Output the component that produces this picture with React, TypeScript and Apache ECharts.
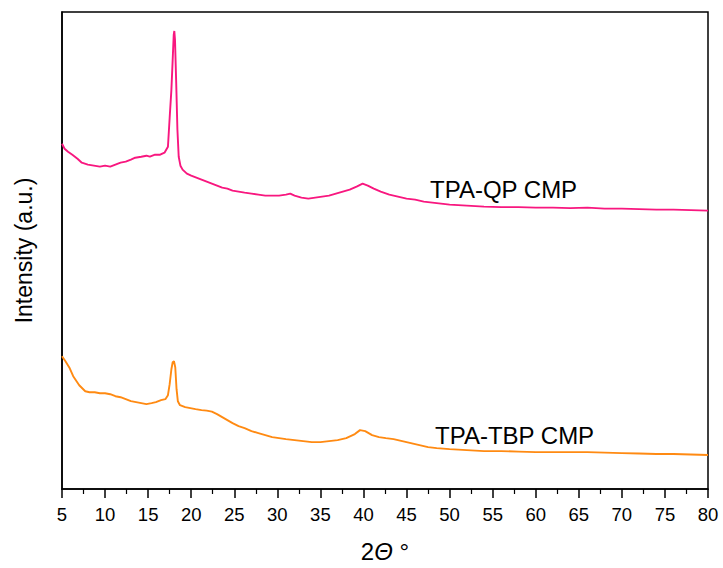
import React, { useEffect, useRef } from "react";
import * as echarts from "echarts";

// Diffraction angle (2θ, degrees) and intensity (a.u.) for TPA-QP CMP
const qpAngle = [
  5.0, 5.3, 5.7, 6.2, 6.8, 7.3, 8.0, 8.7, 9.4, 10.0, 10.6, 11.2, 11.8, 12.4, 13.0, 13.5, 14.2, 14.8,
  15.2, 15.8, 16.4, 16.9, 17.3, 17.5, 17.7, 17.85, 17.97, 18.04, 18.12, 18.25, 18.4, 18.55, 18.75,
  19.0, 19.5, 20.0, 20.6, 21.2, 21.8, 22.4, 23.0, 23.6, 24.2, 24.8, 25.5, 26.2, 27.0, 27.8, 28.6,
  29.4, 30.2, 31.0, 31.5, 32.0, 32.8, 33.6, 34.4, 35.2, 36.0, 36.8, 37.6, 38.4, 39.2, 39.9, 40.5,
  41.2, 42.0, 43.0, 44.0, 45.0, 46.0, 47.0, 48.0, 49.0, 50.0, 52.0, 54.0, 56.0, 58.0, 60.0, 62.0,
  64.0, 66.0, 68.0, 70.0, 72.0, 74.0, 76.0, 78.0, 80.0,
];
const qpIntensity = [
  346, 341, 338, 335, 331, 327, 325, 324, 323, 324, 323, 325, 327, 328, 330, 332, 333, 334,
  333, 335, 335, 337, 343, 372, 400, 430, 455, 459, 450, 410, 360, 333, 324,
  320, 316, 314, 312, 310, 308, 306, 304, 302, 301, 299, 298, 297, 296, 295, 294,
  294, 294, 295, 296, 294, 292, 291, 292, 293, 294, 296, 298, 300, 303, 306, 304,
  301, 298, 295, 293, 291, 290, 288, 287, 286, 285, 284, 283, 282.5, 282.5, 282, 282,
  281.5, 282, 281, 281, 280.5, 280, 280, 279.5, 279,
];

// Diffraction angle (2θ, degrees) and intensity (a.u.) for TPA-TBP CMP
const tbpAngle = [
  5.0, 5.4, 5.9, 6.3, 7.0, 7.7, 8.2, 8.8, 9.4, 10.0, 10.6, 11.2, 11.8, 12.4, 13.0, 13.6, 14.2, 14.8,
  15.4, 15.9, 16.5, 17.0, 17.3, 17.5, 17.7, 17.85, 18.0, 18.15, 18.3, 18.45, 18.7, 19.3, 19.9, 20.5,
  21.2, 21.8, 22.4, 23.0, 23.6, 24.2, 24.8, 25.5, 26.2, 27.0, 27.8, 28.6, 29.4, 30.2, 31.0, 32.0,
  33.0, 34.0, 35.0, 36.0, 37.0, 38.0, 39.0, 39.6, 40.2, 41.0, 41.8, 42.6, 43.5, 44.5, 45.5, 46.5,
  47.5, 48.5, 50.0, 52.0, 54.0, 56.0, 58.0, 60.0, 62.0, 64.0, 66.0, 68.0, 70.0, 72.0, 74.0, 76.0,
  78.0, 80.0,
];
const tbpIntensity = [
  133, 128, 121, 113, 104, 98, 97, 97, 96, 96, 95, 93, 92, 90, 88, 87, 86, 85,
  86, 87, 89, 90, 94, 105, 120, 127, 128, 122, 100, 88, 84, 82, 81, 80,
  79, 78.5, 77.5, 75, 72, 69, 66, 63, 61, 58, 56, 54, 52, 51, 50, 49,
  48, 47, 47, 48, 49, 51, 55, 59, 58, 54, 52, 51, 50, 48, 46, 44,
  42, 41, 40, 39, 38, 38, 37.5, 37, 37, 37, 37, 36.5, 36, 35.5, 35, 35,
  34.5, 34,
];

const seriesNames = ["TPA-QP CMP", "TPA-TBP CMP"];
const seriesColors = ["#f8177f", "#ff8a12"];

const FONT = "'Liberation Sans', Arial, Helvetica, sans-serif";

const zip = (xs: number[], ys: number[]) => xs.map((x, i) => [x, ys[i]]);

export default function App() {
  const ref = useRef<HTMLDivElement>(null);

  useEffect(() => {
    if (!ref.current) return;
    const chart = echarts.init(ref.current, null, { renderer: "svg" });
    chart.setOption({
      animation: false,
      backgroundColor: "#ffffff",
      grid: {
        left: 62,
        right: 15,
        top: 12,
        bottom: 78,
        show: true,
        borderColor: "#000",
        borderWidth: 1.5,
      },
      xAxis: {
        type: "value",
        min: 5,
        max: 80,
        interval: 5,
        name: "{n|2}{t|Θ}{d| °}",
        nameLocation: "middle",
        nameGap: 50,
        nameTextStyle: {
          rich: {
            n: { fontFamily: FONT, fontSize: 24, color: "#000" },
            t: { fontFamily: FONT, fontSize: 24, fontStyle: "italic", color: "#000" },
            d: { fontFamily: FONT, fontSize: 24, color: "#000" },
          },
        },
        axisLine: { show: true, lineStyle: { color: "#000", width: 1.5 } },
        axisTick: { show: true, length: 9, lineStyle: { color: "#000", width: 1.5 } },
        minorTick: { show: true, splitNumber: 2, length: 5, lineStyle: { color: "#000", width: 1.2 } },
        axisLabel: { fontFamily: FONT, fontSize: 18.5, color: "#000", margin: 16 },
        splitLine: { show: false },
      },
      yAxis: {
        type: "value",
        min: 0,
        max: 478,
        name: "Intensity (a.u.)",
        nameLocation: "middle",
        nameGap: 27,
        nameTextStyle: { fontFamily: FONT, fontSize: 23, color: "#000" },
        axisLine: { show: true, lineStyle: { color: "#000", width: 1.5 } },
        axisTick: { show: false },
        axisLabel: { show: false },
        splitLine: { show: false },
      },
      series: [
        {
          name: seriesNames[0],
          type: "line",
          data: zip(qpAngle, qpIntensity),
          showSymbol: false,
          lineStyle: { color: seriesColors[0], width: 1.9 },
        },
        {
          name: seriesNames[1],
          type: "line",
          data: zip(tbpAngle, tbpIntensity),
          showSymbol: false,
          lineStyle: { color: seriesColors[1], width: 1.9 },
        },
      ],
      graphic: [
        {
          type: "text",
          left: 430,
          top: 177,
          style: { text: seriesNames[0], fontFamily: FONT, fontSize: 24, fill: "#000" },
        },
        {
          type: "text",
          left: 435,
          top: 423,
          style: { text: seriesNames[1], fontFamily: FONT, fontSize: 24, fill: "#000" },
        },
      ],
    });
    return () => chart.dispose();
  }, []);

  return <div ref={ref} style={{ width: 723, height: 568, position: "absolute", left: 0, top: 0 }} />;
}
